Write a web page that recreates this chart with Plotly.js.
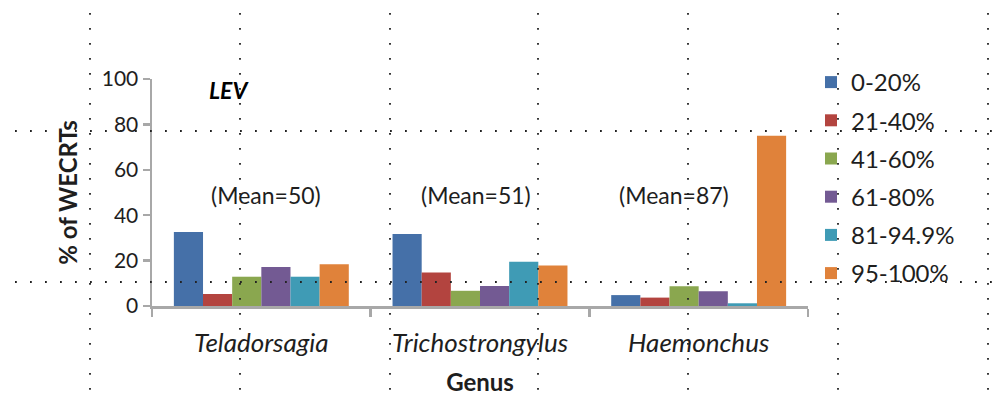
<!DOCTYPE html>
<html>
<head>
<meta charset="utf-8">
<script src="https://cdn.plot.ly/plotly-3.0.1.min.js"></script>
<style>
  html, body { margin: 0; padding: 0; background: #fff; }
  #chart { width: 993px; height: 399px; }
</style>
</head>
<body>
<div id="chart"></div>
<script>
// Genus categories on the x axis
const genera = ["Teladorsagia", "Trichostrongylus", "Haemonchus"];

// Share of WECRTs (%) falling in each efficacy class, per genus
const classLabels = ["0-20%", "21-40%", "41-60%", "61-80%", "81-94.9%", "95-100%"];
const pct0to20   = [32.6, 31.7, 4.8];
const pct21to40  = [5.3, 14.8, 3.7];
const pct41to60  = [12.9, 6.7, 8.7];
const pct61to80  = [17.2, 8.8, 6.5];
const pct81to949 = [12.9, 19.5, 1.2];
const pct95to100 = [18.4, 17.8, 75];

// Mean efficacy per genus, written above each group
const means = [50, 51, 87];

const seriesValues = [pct0to20, pct21to40, pct41to60, pct61to80, pct81to949, pct95to100];
const colors = ["#4570A8", "#B3443F", "#8AA74F", "#735A93", "#3F9BB5", "#E0823A"];

const FONT = "Lato, 'Open Sans', sans-serif";
const TXT = "#1e1e1e";
const AXIS = "#A8A8A8";

const traces = seriesValues.map((vals, i) => ({
  type: "bar",
  name: classLabels[i],
  x: genera,
  y: vals,
  legendgroup: "g" + i,
  marker: { color: colors[i], line: { width: 0 } }
}));

// Plot-area geometry in pixels, used to place the dotted page guides
const W = 993, H = 399;
const M = { l: 152, r: 185, t: 79, b: 93 };
const pw = W - M.l - M.r, ph = H - M.t - M.b;
const px = x => (x - M.l) / pw;
const py = y => (H - M.b - y) / ph;

const guideLine = { color: "#222", width: 1.8, dash: "1.8px,13.2px" };
const shapes = [];
[90, 240, 390, 538, 688, 838, 988].forEach(x => {
  shapes.push({ type: "line", xref: "paper", yref: "paper", layer: "above",
    x0: px(x), x1: px(x), y0: py(13), y1: py(399), line: guideLine });
});
[131, 282].forEach(y => {
  shapes.push({ type: "line", xref: "paper", yref: "paper", layer: "above",
    x0: px(15), x1: px(993), y0: py(y), y1: py(y), line: guideLine });
});

const meanOffsets = [0.02, -0.02, -0.115];
const annotations = means.map((m, i) => ({
  xref: "x", yref: "y", x: i + meanOffsets[i], y: 49,
  text: "(Mean=" + m + ")", showarrow: false,
  font: { family: FONT, size: 23, color: TXT }
}));
annotations.push({
  xref: "paper", yref: "paper", x: px(207), y: py(74),
  text: "<b><i>LEV</i></b>", showarrow: false,
  font: { family: FONT, size: 23, color: "#000" }
});

const layout = {
  width: W, height: H,
  margin: M,
  paper_bgcolor: "#fff", plot_bgcolor: "#fff",
  barmode: "group", bargap: 0.2, bargroupgap: 0,
  font: { family: FONT, size: 20, color: TXT },
  showlegend: true,
  legend: {
    x: px(811), xanchor: "left", y: py(60), yanchor: "top",
    traceorder: "grouped", tracegroupgap: 4, maxheight: 400,
    font: { family: FONT, size: 24, color: TXT },
    bgcolor: "rgba(0,0,0,0)", borderwidth: 0
  },
  xaxis: {
    type: "category",
    showline: true, linecolor: AXIS, linewidth: 2.5,
    ticks: "outside", tickson: "boundaries", ticklen: 8, tickwidth: 2.5, tickcolor: AXIS,
    showgrid: false, zeroline: false,
    tickfont: { family: FONT, size: 26, color: TXT, style: "italic" },
    ticklabelstandoff: 12,
    title: { text: "<b>Genus</b>", font: { family: FONT, size: 24, color: TXT }, standoff: 18 }
  },
  yaxis: {
    range: [0, 100], dtick: 20,
    showline: true, linecolor: AXIS, linewidth: 2.5,
    ticks: "outside", ticklen: 7, tickwidth: 2.5, tickcolor: AXIS,
    showgrid: false, zeroline: false,
    tickfont: { family: FONT, size: 21, color: TXT },
    title: { text: "<b>% of WECRTs</b>", font: { family: FONT, size: 24, color: TXT }, standoff: 18 }
  },
  shapes: shapes,
  annotations: annotations
};

Plotly.newPlot("chart", traces, layout, { displayModeBar: false, staticPlot: true });
</script>
</body>
</html>
